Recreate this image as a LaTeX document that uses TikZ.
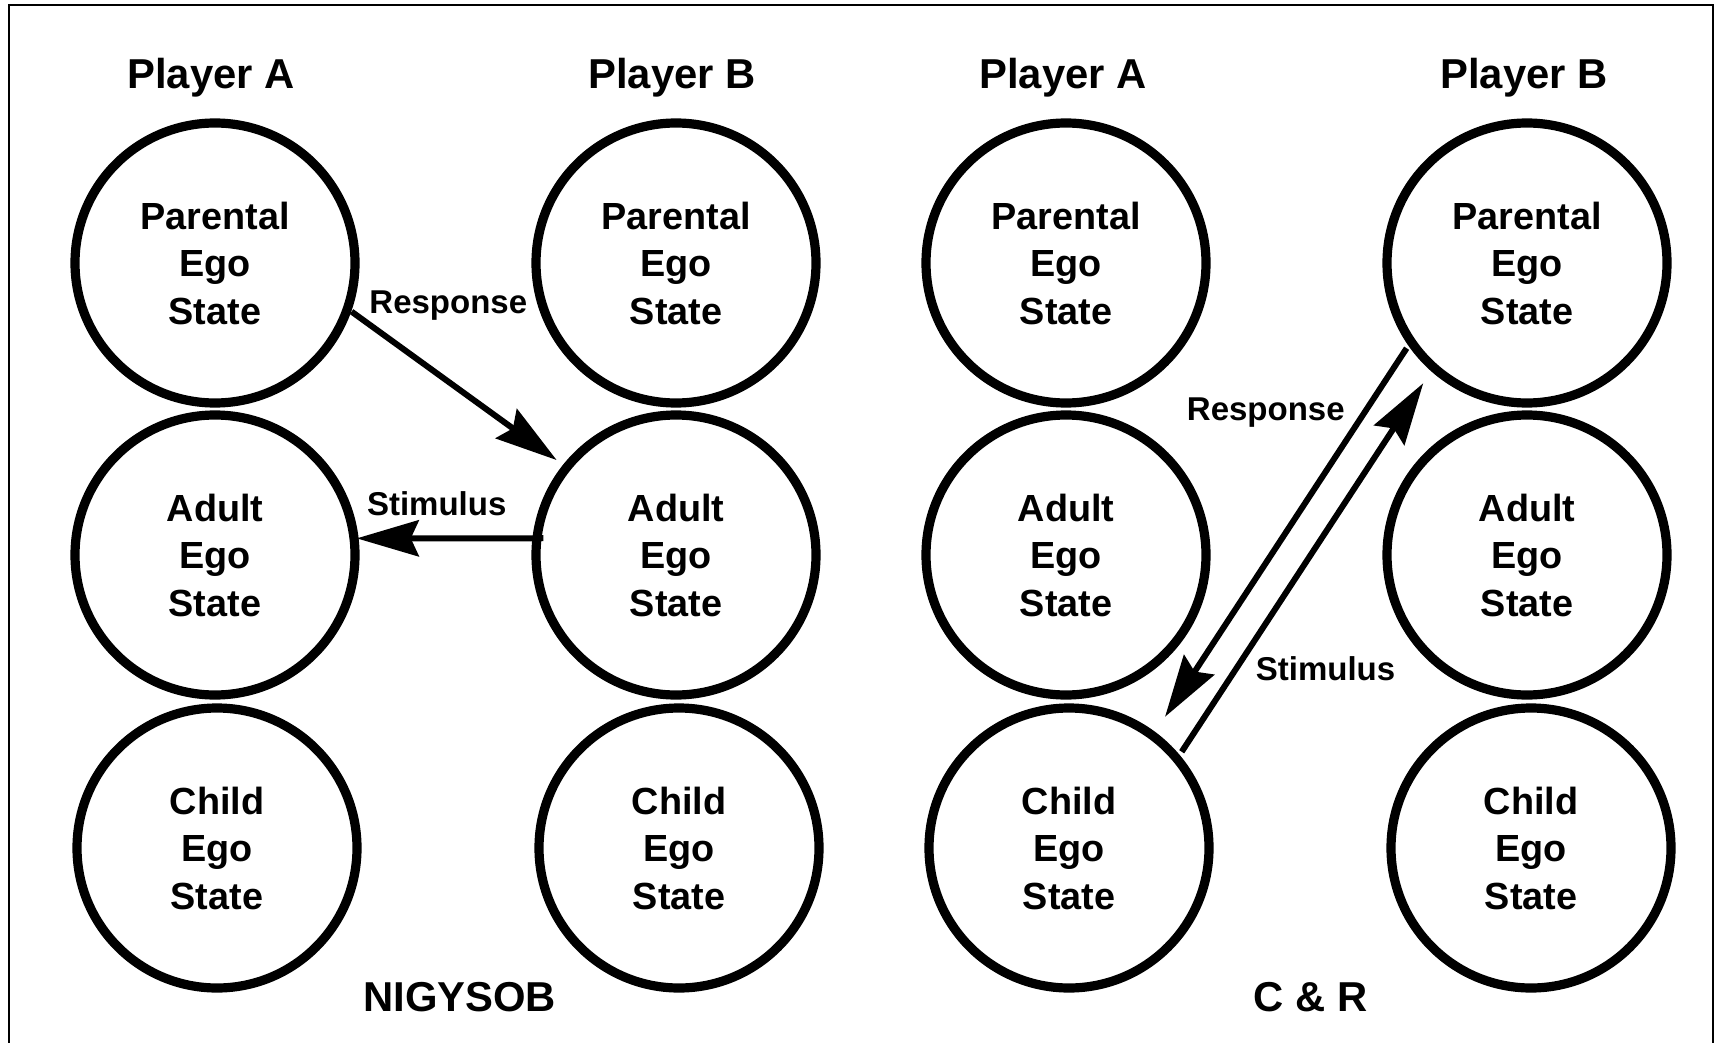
\documentclass[tikz,border=0pt]{standalone}
\usepackage{fontspec}
\setmainfont{Liberation Sans}
\usetikzlibrary{arrows.meta,calc}
\begin{document}
\begin{tikzpicture}[x=0.5pt,y=0.5pt,
  egostate/.style={circle,draw,line width=4.6pt,minimum size=140pt,inner sep=0pt,
    align=center,font=\fontsize{18.9}{23.75}\selectfont\bfseries},
  heading/.style={anchor=base,inner sep=0pt,font=\fontsize{20.9}{24}\selectfont\bfseries},
  flowlabel/.style={anchor=base,inner sep=0pt,font=\fontsize{16.5}{20}\selectfont\bfseries},
  flow/.style={line width=3pt,-{Stealth[length=31pt,width=18pt,inset=4pt]}}]
\useasboundingbox (0,0) rectangle (1718,-1043);

% frame (open at the bottom)
\draw[line width=1pt] (9,-1043) -- (9,-5) -- (1713,-5) -- (1713,-1043);

% column headings
\node[heading] (hA1) at (211,-88.8)  {Player A};
\node[heading] (hB1) at (672,-88.8)  {Player B};
\node[heading] (hA2) at (1063,-88.8) {Player A};
\node[heading] (hB2) at (1524,-88.8) {Player B};

% ego states, first transaction
\node[egostate] (A1) at (215,-263) {Parental\\Ego\\State};
\node[egostate] (A2) at (215,-555) {Adult\\Ego\\State};
\node[egostate] (A3) at (217,-848) {Child\\Ego\\State};
\node[egostate] (B1) at (676,-263) {Parental\\Ego\\State};
\node[egostate] (B2) at (676,-555) {Adult\\Ego\\State};
\node[egostate] (B3) at (679,-848) {Child\\Ego\\State};

% ego states, second transaction
\node[egostate] (C1) at (1066,-263) {Parental\\Ego\\State};
\node[egostate] (C2) at (1066,-555) {Adult\\Ego\\State};
\node[egostate] (C3) at (1069,-848) {Child\\Ego\\State};
\node[egostate] (D1) at (1527,-263) {Parental\\Ego\\State};
\node[egostate] (D2) at (1527,-555) {Adult\\Ego\\State};
\node[egostate] (D3) at (1531,-848) {Child\\Ego\\State};

% NIGYSOB transaction
\draw[flow] ($(A1.center)+(-19.6:145)$) -- ($(B2.center)+(141.5:152.5)$);
\draw[flow] ($(B2.center)+(172.8:133.7)$) -- ($(A2.center)+(6.7:142.7)$);
\node[flowlabel] (r1) at (448.3,-313.3) {Response};
\node[flowlabel] (s1) at (436.7,-515) {Stimulus};

% C & R transaction
\draw[flow] ($(D1.center)+(215.3:147.5)$) -- ($(C3.center)+(53.8:162.6)$);
\draw[flow] ($(C3.center)+(40.5:148.2)$) -- ($(D1.center)+(229.2:158.8)$);
\node[flowlabel] (r2) at (1265.8,-420) {Response};
\node[flowlabel] (s2) at (1325.5,-680) {Stimulus};

% game names
\node[heading] (g1) at (459.7,-1011.7) {NIGYSOB};
\node[heading] (g2) at (1310.8,-1011.7) {C \& R};
\end{tikzpicture}
\end{document}
